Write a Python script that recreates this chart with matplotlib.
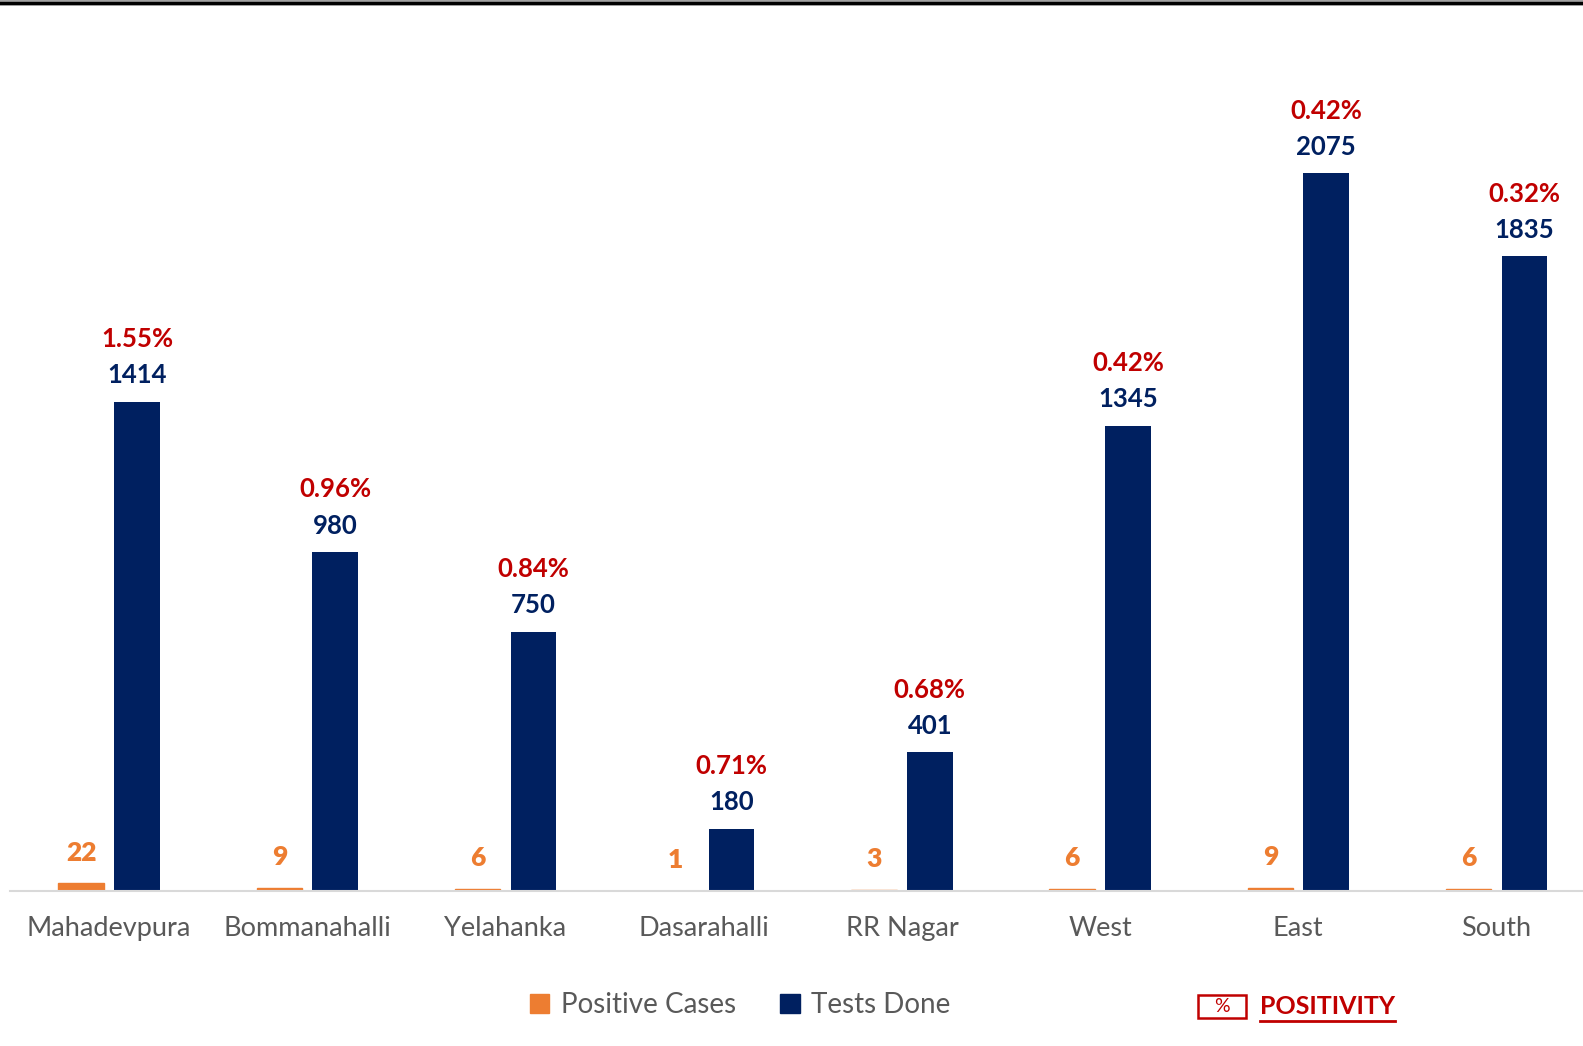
import numpy as np
import matplotlib.pyplot as plt
from matplotlib.patches import Patch, Rectangle
from matplotlib.lines import Line2D

# zone-wise data
zones = ['Mahadevpura', 'Bommanahalli', 'Yelahanka', 'Dasarahalli',
         'RR Nagar', 'West', 'East', 'South']
positive_cases = [22, 9, 6, 1, 3, 6, 9, 6]
tests_done = [1414, 980, 750, 180, 401, 1345, 2075, 1835]
positivity = ['1.55%', '0.96%', '0.84%', '0.71%', '0.68%', '0.42%', '0.42%', '0.32%']

orange = '#ED7D31'
navy = '#002060'
red = '#C00000'
grey = '#595959'

plt.rcParams['font.family'] = ['Lato', 'DejaVu Sans']

W, H = 1583, 1046
fig = plt.figure(figsize=(W / 100, H / 100), dpi=100)
ax = fig.add_axes([10 / W, 1 - 891 / H, (1583 - 10) / W, (891 - 80) / H])

x = np.arange(len(zones))
bw = 0.23
off = 0.141
# thin edge so the very small case bars still show, like in the original
ax.bar(x - off, positive_cases, bw, color=orange, edgecolor=orange, linewidth=1)
ax.bar(x + off, tests_done, bw, color=navy)

ax.set_xlim(-0.5, -0.5 + 1573 / 198.2)
ax.set_ylim(0, 2344)

for i in range(len(zones)):
    ax.annotate(str(positive_cases[i]), (x[i] - off, positive_cases[i]),
                xytext=(0, 22), textcoords='offset points', ha='center', va='center',
                color=orange, fontsize=19, fontweight='heavy')
    ax.annotate(str(tests_done[i]), (x[i] + off, tests_done[i]),
                xytext=(0, 19), textcoords='offset points', ha='center', va='center',
                color=navy, fontsize=18.5, fontweight='bold')
    ax.annotate(positivity[i], (x[i] + off, tests_done[i]),
                xytext=(0, 45), textcoords='offset points', ha='center', va='center',
                color=red, fontsize=18.5, fontweight='bold')

ax.set_xticks(x)
ax.set_xticklabels(zones, fontsize=19.5, color=grey)
ax.tick_params(axis='x', length=0, pad=18)
ax.set_yticks([])
for s in ['top', 'right', 'left']:
    ax.spines[s].set_visible(False)
ax.spines['bottom'].set_color('#D9D9D9')
ax.spines['bottom'].set_linewidth(1.5)

# legend
handles = [Patch(color=orange, label='Positive Cases'),
           Patch(color=navy, label='Tests Done')]
fig.legend(handles=handles, loc='center', bbox_to_anchor=(740 / W, 1 - 1005 / H),
           ncol=2, frameon=False, fontsize=20, labelcolor=grey,
           handlelength=0.7, handleheight=0.7, handletextpad=0.4, columnspacing=1.6)

# positivity key
fig.add_artist(Rectangle((1198 / W, 1 - 1018 / H), 48 / W, 23 / H,
                         transform=fig.transFigure, fc='white', ec=red, lw=1.8))
fig.text(1222 / W, 1 - 1006 / H, '%', ha='center', va='center', color=red, fontsize=14)
fig.text(1260 / W, 1 - 1006 / H, 'POSITIVITY', ha='left', va='center', color=red,
         fontsize=18, fontweight='bold')
fig.add_artist(Line2D([1260 / W, 1395 / W], [1 - 1021 / H, 1 - 1021 / H],
                      color=red, lw=2))

# slide border on top
fig.add_artist(Line2D([0, 1], [1 - 3 / H, 1 - 3 / H], color='#888888', lw=4))
fig.add_artist(Line2D([0, 1], [1 - 3 / H, 1 - 3 / H], color='black', lw=2.2))

fig.savefig('out.png', dpi=100)
